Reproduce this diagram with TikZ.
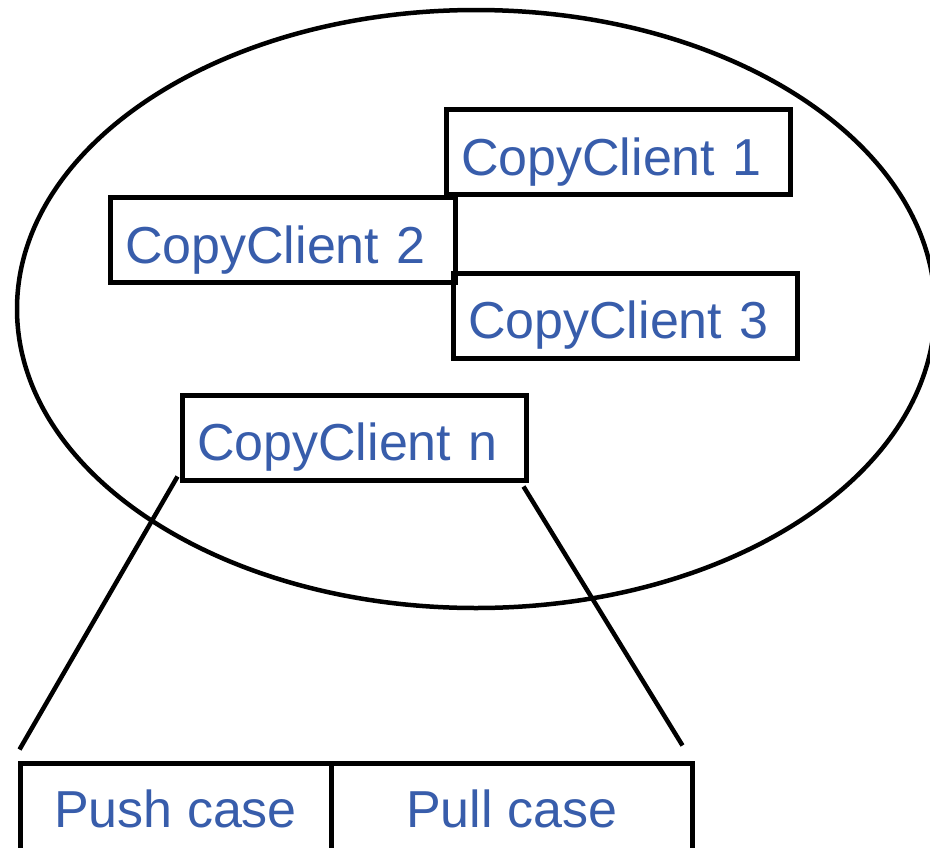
\documentclass[tikz,border=0pt]{standalone}
\usepackage{fontspec}
\setmainfont{Liberation Sans}
\usetikzlibrary{calc}
\definecolor{labelblue}{RGB}{56,93,171}
\tikzset{
  client/.style={draw=black, line width=5pt, minimum width=344pt, minimum height=85pt,
    text width=314pt, inner xsep=15pt, align=left, text=labelblue,
    text height=46pt, text depth=0pt,
    font=\fontsize{52}{60}\selectfont},
  casebox/.style={draw=black, line width=5pt, minimum height=92pt, inner sep=0pt,
    text=labelblue, font=\fontsize{52}{60}\selectfont},
  link/.style={line width=4.5pt, draw=black}
}
\begin{document}
\begin{tikzpicture}[x=1pt,y=-1pt]
  \useasboundingbox (0,0) rectangle (930,847);
  \clip (0,0) rectangle (930,847);
  \fill[white] (0,0) rectangle (930,847);

  % group of clients
  \draw[line width=4.5pt] (476,309) ellipse [x radius=459pt, y radius=299pt];

  \node[client] (c1) at (618,152) {CopyClient 1};
  \node[client, minimum width=345pt, text width=315pt] (c2) at (282.5,240) {CopyClient 2};
  \node[client] (c3) at (625,315.5) {CopyClient 3};
  \node[client] (cn) at (354,437.5) {CopyClient n};

  % detail of one client
  \node[casebox, minimum width=311pt] (push) at (175.5,809) {Push case};
  \node[casebox, minimum width=361pt] (pull) at (511.5,809) {Pull case};

  \coordinate (nl) at ($(cn.south west)+(-2,-6)$);
  \coordinate (nr) at ($(cn.south east)+(-5,4)$);
  \coordinate (pl) at ($(push.north west)+(2,-11)$);
  \coordinate (pr) at ($(pull.north east)+(-12,-15)$);
  \draw[link] (nl) -- (pl);
  \draw[link] (nr) -- (pr);
\end{tikzpicture}
\end{document}
